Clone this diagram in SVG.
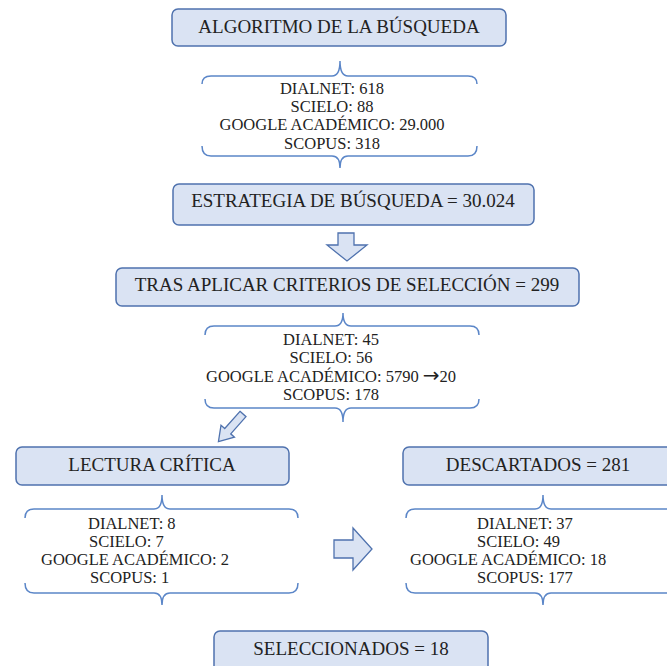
<svg xmlns="http://www.w3.org/2000/svg" width="667" height="666" viewBox="0 0 667 666">
<style>
.box{fill:#DAE3F3;stroke:#4F72AE;stroke-width:1.5}
.t{font-family:"Liberation Serif","Times New Roman",serif;font-size:19px;fill:#222;text-anchor:middle}
.s{font-family:"Liberation Serif","Times New Roman",serif;font-size:16.5px;fill:#222}
.m{text-anchor:middle}
.ar{font-family:"DejaVu Sans",sans-serif;font-size:20px}
.brace{fill:none;stroke:#5B86C8;stroke-width:1.5}
.arr{fill:#DAE3F3;stroke:#4F72AE;stroke-width:1.3}
</style>
<rect width="667" height="666" fill="#fff"/>
<g id="n1"><rect class="box" x="172" y="9" width="334" height="37" rx="6"/><text class="t" x="339" y="33">ALGORITMO DE LA BÚSQUEDA</text></g>
<g id="n2" class="s m"><text x="332" y="94">DIALNET: 618</text><text x="332" y="112">SCIELO: 88</text><text x="332" y="130">GOOGLE ACADÉMICO: 29.000</text><text x="332" y="149">SCOPUS: 318</text></g>
<g id="n3"><rect class="box" x="173" y="184" width="361" height="41" rx="6"/><text class="t" x="353" y="207">ESTRATEGIA DE BÚSQUEDA = 30.024</text></g>
<g id="n4"><rect class="box" x="116" y="268" width="463" height="38" rx="6"/><text class="t" x="347" y="291">TRAS APLICAR CRITERIOS DE SELECCIÓN = 299</text></g>
<g id="n5" class="s m"><text x="331" y="345">DIALNET: 45</text><text x="331" y="363">SCIELO: 56</text><text x="331" y="382">GOOGLE ACADÉMICO: 5790 <tspan class="ar">→</tspan>20</text><text x="331" y="400">SCOPUS: 178</text></g>
<g id="n6"><rect class="box" x="16" y="447" width="273" height="38" rx="6"/><text class="t" x="152" y="471">LECTURA CRÍTICA</text></g>
<g id="n7" class="s"><text x="88" y="529">DIALNET: 8</text><text x="89" y="547">SCIELO: 7</text><text x="41" y="565">GOOGLE ACADÉMICO: 2</text><text x="90" y="583">SCOPUS: 1</text></g>
<g id="n8"><rect class="box" x="403" y="447" width="280" height="38" rx="6"/><text class="t" x="538" y="471">DESCARTADOS = 281</text></g>
<g id="n9" class="s"><text x="477" y="529">DIALNET: 37</text><text x="477" y="547">SCIELO: 49</text><text x="410" y="565">GOOGLE ACADÉMICO: 18</text><text x="477" y="583">SCOPUS: 177</text></g>
<g id="n10"><rect class="box" x="214" y="631" width="274" height="45" rx="6"/><text class="t" x="351" y="655">SELECCIONADOS = 18</text></g>
<g id="connectors">
<path class="brace" d="M202,84 Q202,76 211,76 H332 Q340,76 340,61 Q340,76 348,76 H468 Q477,76 477,84"/>
<path class="brace" d="M202,146 Q202,156 211,156 H332 Q340,156 340,168 Q340,156 348,156 H468 Q477,156 477,146"/>
<path class="brace" d="M205,335 Q205,326 214,326 H335 Q343,326 343,313 Q343,326 351,326 H470 Q479,326 479,335"/>
<path class="brace" d="M205,399 Q205,408 214,408 H335 Q343,408 343,422 Q343,408 351,408 H470 Q479,408 479,399"/>
<path class="brace" d="M25,518 Q25,509 34,509 H154 Q162,509 162,495 Q162,509 170,509 H289 Q298,509 298,518"/>
<path class="brace" d="M25,583 Q25,593 34,593 H154 Q162,593 162,605 Q162,593 170,593 H289 Q298,593 298,583"/>
<path class="brace" d="M406,518 Q406,509 415,509 H535 Q543,509 543,495 Q543,509 551,509 H680"/>
<path class="brace" d="M406,583 Q406,593 415,593 H535 Q543,593 543,605 Q543,593 551,593 H680"/>
<polygon class="arr" points="338,233 354,233 354,245 367,245 347,261 327,245 338,245"/>
<polygon class="arr" transform="translate(243,414) rotate(41.6)" points="-4,0 4,0 4,23 9,23 0,37 -9,23 -4,23"/>
<polygon class="arr" points="334,540 353,540 353,528 372,549 353,570 353,558 334,558"/>
</g>
</svg>
